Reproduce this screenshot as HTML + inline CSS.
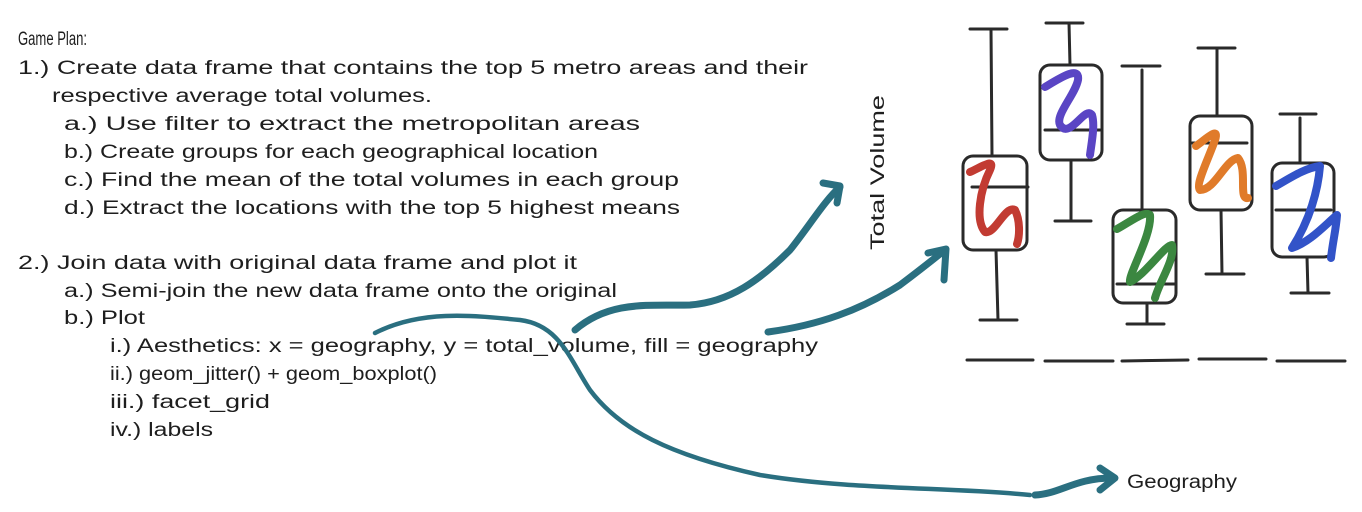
<!DOCTYPE html>
<html><head><meta charset="utf-8"><style>
html,body{margin:0;padding:0;background:#fff;}
svg{display:block;}
text{font-family:"Liberation Sans",sans-serif;fill:#1e1e1e;font-size:19px;}
</style></head><body>
<svg width="1362" height="512" viewBox="0 0 1362 512">
<g>
<text x="18" y="45" textLength="69" lengthAdjust="spacingAndGlyphs">Game Plan:</text>
<text x="18" y="74" textLength="790" lengthAdjust="spacingAndGlyphs">1.) Create data frame that contains the top 5 metro areas and their</text>
<text x="52" y="102" textLength="380" lengthAdjust="spacingAndGlyphs">respective average total volumes.</text>
<text x="64" y="130" textLength="576" lengthAdjust="spacingAndGlyphs">a.) Use filter to extract the metropolitan areas</text>
<text x="64" y="158" textLength="534" lengthAdjust="spacingAndGlyphs">b.) Create groups for each geographical location</text>
<text x="64" y="186" textLength="615" lengthAdjust="spacingAndGlyphs">c.) Find the mean of the total volumes in each group</text>
<text x="64" y="214" textLength="616" lengthAdjust="spacingAndGlyphs">d.) Extract the locations with the top 5 highest means</text>
<text x="18" y="269" textLength="559" lengthAdjust="spacingAndGlyphs">2.) Join data with original data frame and plot it</text>
<text x="64" y="297" textLength="553" lengthAdjust="spacingAndGlyphs">a.) Semi-join the new data frame onto the original</text>
<text x="64" y="324" textLength="81" lengthAdjust="spacingAndGlyphs">b.) Plot</text>
<text x="110" y="352" textLength="708" lengthAdjust="spacingAndGlyphs">i.) Aesthetics: x = geography, y = total_volume, fill = geography</text>
<text x="110" y="380" textLength="327" lengthAdjust="spacingAndGlyphs">ii.) geom_jitter() + geom_boxplot()</text>
<text x="110" y="408" textLength="160" lengthAdjust="spacingAndGlyphs">iii.) facet_grid</text>
<text x="110" y="436" textLength="103" lengthAdjust="spacingAndGlyphs">iv.) labels</text>
<text x="1127" y="488" textLength="110" lengthAdjust="spacingAndGlyphs">Geography</text>
<text transform="translate(884,250) rotate(-90)" x="0" y="0" textLength="155" lengthAdjust="spacingAndGlyphs">Total Volume</text>
</g>
<g fill="none" stroke="#2a6f80" stroke-linecap="round" stroke-linejoin="round">
<path d="M575,330 C610,300 650,306 690,305 C730,302 760,280 790,250 C810,225 825,200 840,187" stroke-width="7"/>
<path d="M823,183 L840,186 L837,203" stroke-width="7"/>
<path d="M768,332 C820,325 860,310 900,285 C920,270 935,258 945,250" stroke-width="7"/>
<path d="M928,253 L946,249 L944,280" stroke-width="7"/>
<path d="M375,333 C420,310 470,315 520,320 C560,325 570,360 590,390 C620,430 670,455 760,475 C850,490 950,487 1030,495" stroke-width="4.5"/>
<path d="M1035,495 C1060,494 1075,478 1112,478" stroke-width="7"/>
<path d="M1100,468 L1115,478 L1100,490" stroke-width="7"/>
</g>
<g fill="none" stroke="#2a2a2a" stroke-width="3" stroke-linecap="round">
<line x1="970" y1="29" x2="1007" y2="29"/><line x1="991" y1="29" x2="992" y2="156"/>
<rect x="963" y="156" width="64" height="94" rx="10"/><line x1="972" y1="187" x2="1028" y2="187"/>
<line x1="996" y1="250" x2="998" y2="320"/><line x1="980" y1="320" x2="1017" y2="320"/>
<line x1="1046" y1="23" x2="1083" y2="23"/><line x1="1069" y1="23" x2="1070" y2="65"/>
<rect x="1040" y="65" width="62" height="95" rx="10"/><line x1="1045" y1="130" x2="1100" y2="130"/>
<line x1="1071" y1="160" x2="1071" y2="221"/><line x1="1055" y1="221" x2="1091" y2="221"/>
<line x1="1122" y1="66" x2="1160" y2="66"/><line x1="1142" y1="70" x2="1142" y2="210"/>
<rect x="1113" y="210" width="63" height="93" rx="10"/><line x1="1117" y1="284" x2="1175" y2="284"/>
<line x1="1147" y1="303" x2="1147" y2="324"/><line x1="1127" y1="324" x2="1164" y2="324"/>
<line x1="1198" y1="48" x2="1235" y2="48"/><line x1="1217" y1="48" x2="1217" y2="116"/>
<rect x="1190" y="116" width="62" height="94" rx="10"/><line x1="1192" y1="143" x2="1247" y2="143"/>
<line x1="1221" y1="210" x2="1222" y2="274"/><line x1="1206" y1="274" x2="1244" y2="274"/>
<line x1="1280" y1="114" x2="1316" y2="114"/><line x1="1300" y1="118" x2="1300" y2="163"/>
<rect x="1272" y="163" width="62" height="94" rx="10"/><line x1="1276" y1="210" x2="1331" y2="210"/>
<line x1="1307" y1="257" x2="1308" y2="293"/><line x1="1291" y1="293" x2="1329" y2="293"/>
<line x1="967" y1="360" x2="1033" y2="360"/><line x1="1045" y1="361" x2="1113" y2="361"/>
<line x1="1122" y1="361" x2="1188" y2="360"/><line x1="1199" y1="359" x2="1266" y2="359"/>
<line x1="1277" y1="361" x2="1345" y2="361"/>
</g>
<g fill="none" stroke-width="8" stroke-linecap="round" stroke-linejoin="round">
<path d="M970,172 C985,165 995,158 990,170 C980,190 975,220 985,232 C995,235 1005,205 1015,210 C1020,220 1020,235 1017,244" stroke="#c23b32"/>
<path d="M1045,87 C1060,78 1080,65 1078,80 C1075,95 1055,115 1060,125 C1070,140 1085,105 1092,115 C1095,125 1092,140 1090,155" stroke="#5a45c4"/>
<path d="M1117,229 C1130,222 1145,210 1150,215 C1152,235 1128,275 1130,282 C1145,275 1165,245 1172,245 C1175,260 1160,280 1155,298" stroke="#3b8740"/>
<path d="M1196,146 C1205,140 1220,125 1215,140 C1208,160 1195,185 1200,190 C1215,190 1225,160 1238,158 C1248,170 1238,200 1248,198" stroke="#e07b2a"/>
<path d="M1276,186 C1290,178 1305,168 1320,166 C1318,190 1310,220 1292,248 C1310,242 1325,225 1337,215 C1336,230 1333,240 1331,258" stroke="#3253c8"/>
</g>
</svg>
</body></html>
